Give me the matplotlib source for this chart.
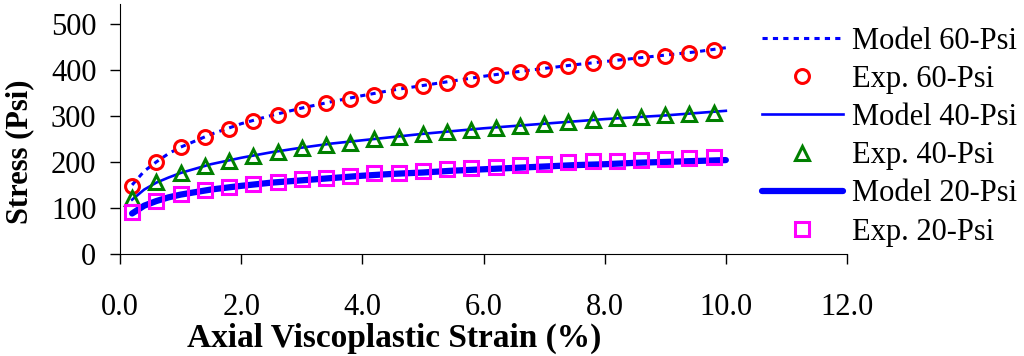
import matplotlib
matplotlib.use('Agg')
import matplotlib.pyplot as plt

plt.rcParams['font.family'] = ['Liberation Serif', 'DejaVu Serif']

# experimental points (strain %, stress psi)
exp_strain = [0.2, 0.6, 1.0, 1.4, 1.8, 2.2, 2.6, 3.0, 3.4, 3.8, 4.2, 4.6, 5.0,
              5.4, 5.8, 6.2, 6.6, 7.0, 7.4, 7.8, 8.2, 8.6, 9.0, 9.4, 9.8]
exp_60 = [148, 200, 232, 254, 272, 289, 302, 315, 327, 337, 346, 355, 364,
          372, 380, 388, 395, 401, 408, 414, 420, 426, 431, 437, 443]
exp_40 = [122, 157, 176, 191, 202, 213, 222, 230, 237, 242, 249, 254, 260,
          264, 269, 274, 279, 283, 287, 291, 295, 298, 301, 304, 307]
exp_20 = [92, 115, 130, 139, 145, 152, 157, 162, 166, 170, 175, 177, 180,
          184, 187, 190, 193, 196, 199, 201, 203, 204, 206, 208, 210]

# model curves
model_strain = [0.2, 0.4, 0.6, 0.8, 1.0, 1.5, 2.0, 2.5, 3.0, 3.5, 4.0, 4.5,
                5.0, 5.5, 6.0, 6.5, 7.0, 7.5, 8.0, 8.5, 9.0, 9.5, 10.0]
model_60 = [150, 180, 200, 218, 232, 260, 283, 301, 317, 331, 344, 356,
            366, 376, 386, 395, 403, 411, 418, 425, 432, 439, 448]
model_40 = [118, 140, 155, 166, 176, 195, 209, 221, 231, 240, 247, 254,
            261, 267, 273, 278, 283, 288, 293, 297, 301, 306, 311]
model_20 = [88, 105, 115, 123, 129, 140, 148, 155, 160, 165, 170, 174,
            177, 181, 184, 187, 190, 193, 195, 198, 200, 202, 204]

fig = plt.figure(figsize=(10.24, 3.56), dpi=100)
ax = fig.add_axes([120 / 1024, 102 / 356, 727 / 1024, 250 / 356])

ax.plot(model_strain, model_60, color='#0000ff', lw=2.2, ls=(0, (1.7, 1.7)), label='Model 60-Psi')
ax.plot(exp_strain, exp_60, ls='none', marker='o', ms=10, mfc='none', mec='#ff0000',
        mew=2.2, label='Exp. 60-Psi')
ax.plot(model_strain, model_40, color='#0000ff', lw=1.9, label='Model 40-Psi')
ax.plot(exp_strain, exp_40, ls='none', marker='^', ms=10.5, mfc='none', mec='#008000',
        mew=2.2, label='Exp. 40-Psi')
ax.plot(model_strain, model_20, color='#0000ff', lw=4.5, solid_capstyle='round', label='Model 20-Psi')
ax.plot(exp_strain, exp_20, ls='none', marker='s', ms=10, mfc='none', mec='#ff00ff',
        mew=2.2, label='Exp. 20-Psi')

ax.set_xlim(0, 12)
ax.set_ylim(0, 543)
ax.set_xticks([0, 2, 4, 6, 8, 10, 12])
ax.set_xticklabels(['0.0', '2.0', '4.0', '6.0', '8.0', '10.0', '12.0'])
ax.set_yticks([0, 100, 200, 300, 400, 500])
ax.spines['top'].set_visible(False)
ax.spines['right'].set_visible(False)
ax.tick_params(axis='both', direction='out', length=7, width=1, labelsize=22)
ax.tick_params(axis='x', pad=21)
ax.tick_params(axis='y', pad=10)

ax.set_xlabel('Axial Viscoplastic Strain (%)', fontsize=24, fontweight='bold')
ax.xaxis.set_label_coords(0.377, -0.275)
ax.set_ylabel('Stress (Psi)', fontsize=22, fontweight='bold')
ax.yaxis.set_label_coords(-0.118, 0.41)

fig.legend(loc='upper left', bbox_to_anchor=(762 / 1024, 0.925), frameon=False,
           fontsize=22, handlelength=2.65, handletextpad=0.3, labelspacing=0.3,
           borderpad=0, borderaxespad=0, numpoints=1)

fig.savefig('out.png', dpi=100)
